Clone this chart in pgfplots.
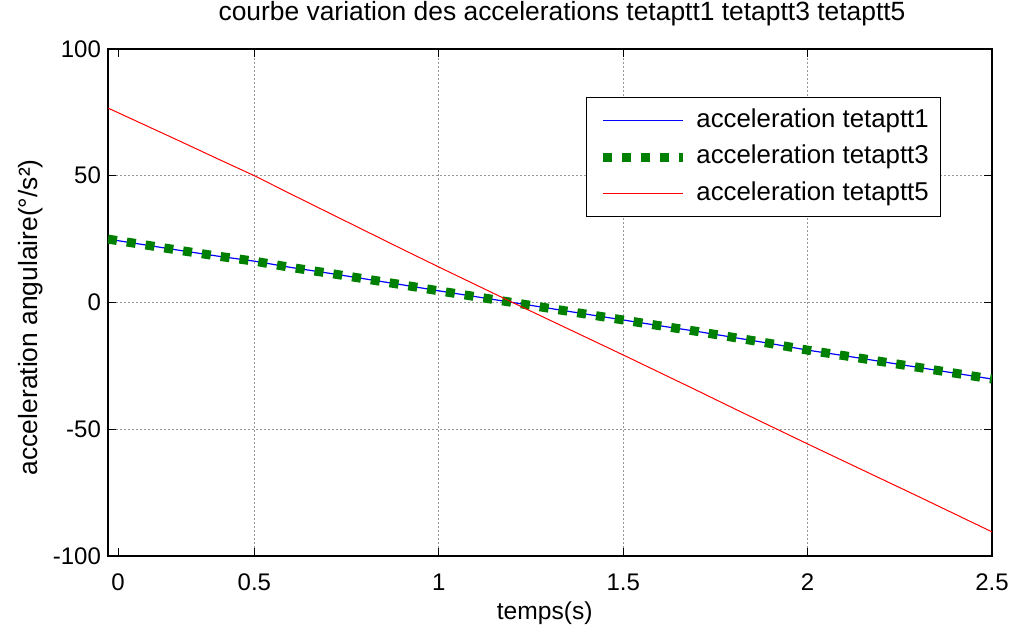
\documentclass[border=0pt]{standalone}
\usepackage{fontspec}
\setmainfont{Liberation Sans}
\usepackage{pgfplots}
\usepackage{pgfplotstable}
\pgfplotsset{compat=1.18}

\definecolor{mgreen}{RGB}{0,128,0}
\definecolor{gridgray}{RGB}{150,150,150}

% tetaptt1 and tetaptt3 (same values)
\pgfplotstableread{
x y
0.103 25.0
0.2 22.8
0.3 20.5
0.4 18.3
0.5 16.3
0.6 13.8
0.7 11.6
0.8 9.3
0.9 7.0
1.0 4.6
1.1 2.3
1.2 0.0
1.3 -2.3
1.4 -4.6
1.5 -6.9
1.6 -9.2
1.7 -11.4
1.8 -13.8
1.9 -16.2
2.0 -18.8
2.1 -21.0
2.2 -23.3
2.3 -25.6
2.4 -27.9
2.5 -30.2
}\tetaone

% tetaptt5
\pgfplotstableread{
x y
0.103 76.7
0.2 70.2
0.3 63.5
0.4 56.7
0.5 50.0
0.6 42.7
0.7 35.5
0.8 28.3
0.9 21.1
1.0 14.0
1.1 7.0
1.2 0.0
1.3 -6.9
1.4 -13.8
1.5 -20.7
1.6 -27.7
1.7 -34.7
1.8 -41.8
1.9 -48.8
2.0 -55.8
2.1 -62.7
2.2 -69.6
2.3 -76.5
2.4 -83.5
2.5 -90.5
}\tetafive

\begin{document}
\begin{tikzpicture}
\begin{axis}[
  scale only axis, width=442pt, height=253.5pt,
  xmin=0.103, xmax=2.5, ymin=-100, ymax=100,
  xtick={0.5,1,1.5,2,2.5},
  extra x ticks={0.1304}, extra x tick labels={0},
  extra x tick style={grid=none},
  ytick={-100,-50,0,50,100},
  grid=major,
  major grid style={gridgray, dash pattern=on 1pt off 1pt, line width=0.5pt},
  tick align=inside, major tick length=4pt,
  tick style={black, line width=0.6pt},
  axis line style={line width=0.9pt},
  /pgf/number format/assume math mode=true,
  ticklabel style={font=\fontsize{12}{14}\selectfont},
  xticklabel style={anchor=base, yshift=-17.5pt},
  title={courbe variation des accelerations tetaptt1 tetaptt3 tetaptt5},
  title style={at={(axis description cs:0.5136,1.0335)}, anchor=base,
    font=\fontsize{13.2}{16}\selectfont},
  xlabel={temps(s)},
  xlabel style={at={(axis description cs:0.494,-0.1262)}, anchor=base,
    font=\fontsize{12.3}{15}\selectfont},
  ylabel={acceleration angulaire(°/s²)},
  ylabel style={at={(axis description cs:-0.0792,0.471)}, anchor=base,
    font=\fontsize{13.2}{16}\selectfont},
  legend cell align=left,
  legend image code/.code={\draw[#1] (0pt,0pt) -- (40pt,0pt);},
  legend style={at={(0.9423,0.9053)}, anchor=north east, draw=black,
    line width=0.6pt, font=\fontsize{12.9}{15}\selectfont,
    inner xsep=5.8pt, inner ysep=2.4pt, column sep=4.5pt,
    nodes={inner xsep=0pt, inner ysep=3pt, text height=9.5pt, text depth=2.75pt}},
]
\addplot[blue, line width=0.6pt] table[x=x, y=y] {\tetaone};
\addlegendentry{acceleration tetaptt1}
\addplot[mgreen, line width=4.5pt, dash pattern=on 4.5pt off 5pt] table[x=x, y=y] {\tetaone};
\addlegendentry{acceleration tetaptt3}
\addplot[red, line width=0.5pt] table[x=x, y=y] {\tetafive};
\addlegendentry{acceleration tetaptt5}
\coordinate (ll) at (rel axis cs:0,0);
\coordinate (ur) at (rel axis cs:1,1);
\end{axis}
\pgfresetboundingbox
\path ([shift={(-54pt,-38.5pt)}]ll) rectangle ([shift={(12pt,24.5pt)}]ur);
\end{tikzpicture}
\end{document}
